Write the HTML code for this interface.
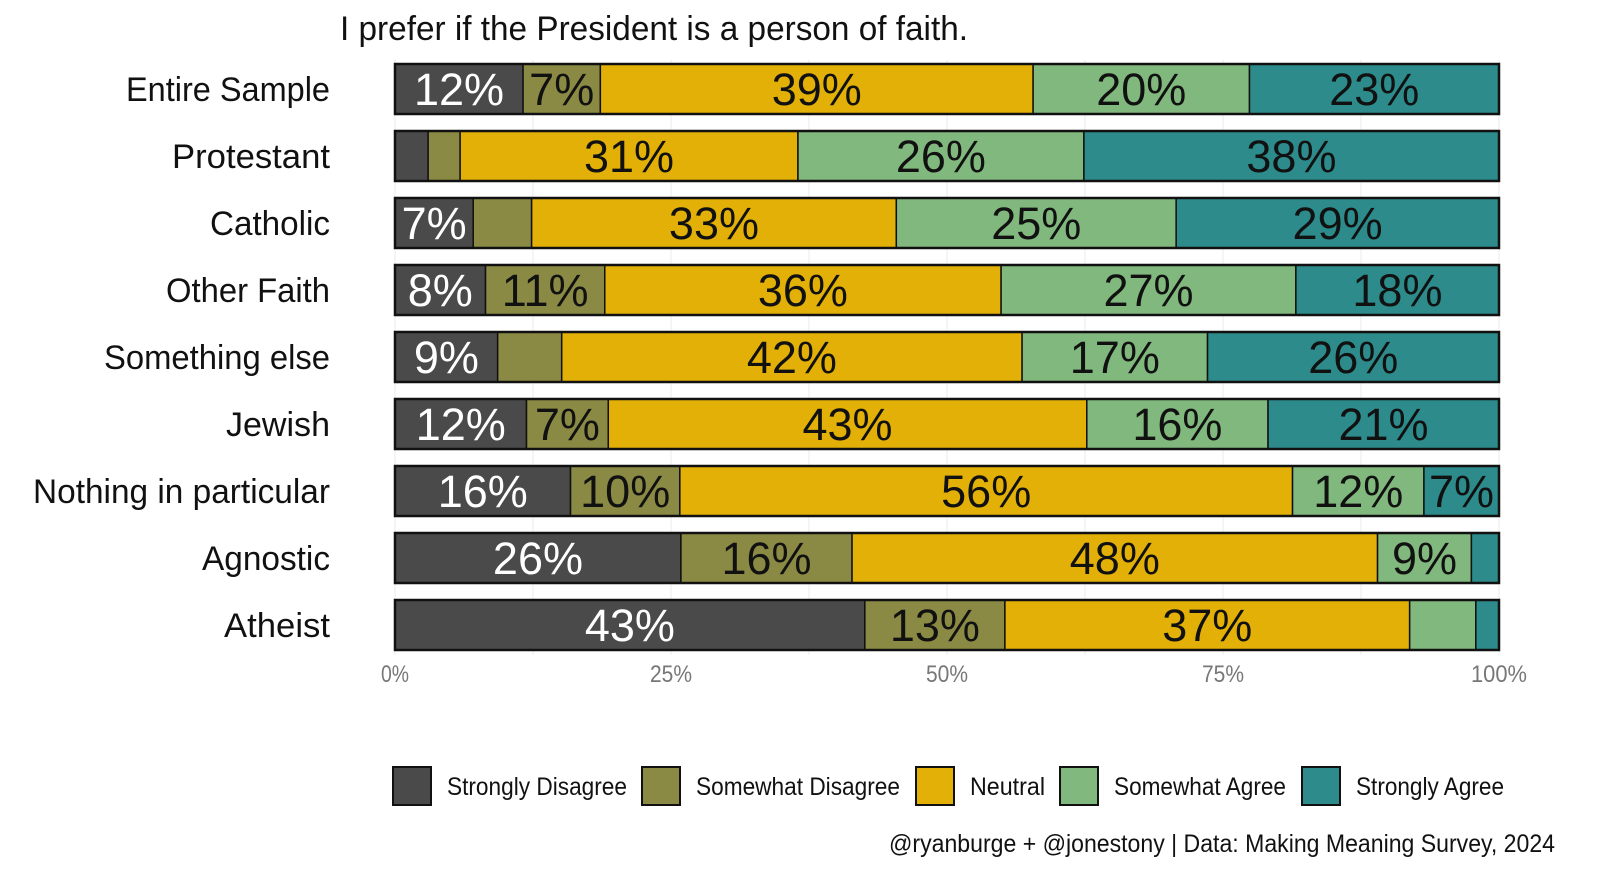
<!DOCTYPE html>
<html><head><meta charset="utf-8"><style>
html,body{margin:0;padding:0;background:#fff;}
svg text{font-family:"Liberation Sans Narrow","Liberation Sans",sans-serif;}
</style></head><body>
<svg id="chart" width="1600" height="889" xmlns="http://www.w3.org/2000/svg">
<text x="340" y="40" font-size="34" fill="#111" textLength="628" lengthAdjust="spacingAndGlyphs">I prefer if the President is a person of faith.</text>
<g id="grid"></g>
<g id="bars"></g>
<g id="axis"></g>
<g id="legend"></g>
<text x="1555" y="852" text-anchor="end" font-size="25" fill="#111" textLength="666" lengthAdjust="spacingAndGlyphs">@ryanburge + @jonestony | Data: Making Meaning Survey, 2024</text>
</svg>
<script>
const categories = ["Entire Sample","Protestant","Catholic","Other Faith","Something else","Jewish","Nothing in particular","Agnostic","Atheist"];
const seriesNames = ["Strongly Disagree","Somewhat Disagree","Neutral","Somewhat Agree","Strongly Agree"];
const stronglyDisagree = [11.6,3.0,7.1,8.2,9.3,11.9,15.9,25.9,42.6];
const somewhatDisagree = [7.0,2.9,5.3,10.8,5.8,7.4,9.9,15.5,12.7];
const neutral = [39.2,30.6,33.1,35.9,41.7,43.3,55.5,47.6,36.7];
const somewhatAgree = [19.6,25.9,25.4,26.7,16.8,16.4,11.9,8.5,6.0];
const stronglyAgree = [22.6,37.6,29.3,18.4,26.4,20.9,6.8,2.5,2.1];
const tickValues = [0,25,50,75,100];
const tickLabels = ["0%","25%","50%","75%","100%"];

const series = [stronglyDisagree,somewhatDisagree,neutral,somewhatAgree,stronglyAgree];
const colors = ["#4a4a4a","#8b8a45","#e2b007","#80b87d","#2d8b8b"];
const catWidths = {"Entire Sample":204,"Protestant":158,"Catholic":120,"Other Faith":164,"Something else":226,"Jewish":104,"Nothing in particular":297,"Agnostic":128,"Atheist":106};
const legendWidths = [180,204,75,172,148];
const NS="http://www.w3.org/2000/svg";
const x0=395,x1=1499;
const xScale=v=>x0+(x1-x0)*v/100;
const rowTop=i=>64+i*67;
const barH=50;
function mk(tag,attrs,parent){const e=document.createElementNS(NS,tag);for(const k in attrs)e.setAttribute(k,attrs[k]);parent.appendChild(e);return e;}
const grid=document.getElementById('grid');
for(let g=0;g<=100;g+=12.5){
  const l=mk('line',{x1:xScale(g),x2:xScale(g),y1:60,y2:655,stroke:'#ebebeb','stroke-width':1},grid);
  
  
}
const bars=document.getElementById('bars');
categories.forEach((c,i)=>{
  const y=rowTop(i);
  const lab=mk('text',{x:330,y:y+barH/2+12,'text-anchor':'end','font-size':34,fill:'#111',textLength:catWidths[c]||150,lengthAdjust:'spacingAndGlyphs'},bars);
  
  
  lab.textContent=c;
  const tot=series.reduce((s,a)=>s+a[i],0);
  let acc=0;
  series.forEach((arr,j)=>{
    const v=arr[i]*100/tot;
    const xa=xScale(acc),xb=xScale(acc+v);
    const r=mk('rect',{x:xa,y:y,width:xb-xa,height:barH,fill:colors[j],stroke:'#111','stroke-width':1.5},bars);
    
    
    if(arr[i]>=6.5){
      const t=mk('text',{x:(xa+xb)/2,y:y+barH/2+16,'text-anchor':'middle','font-size':45,fill:j==0?'#fff':'#111'},bars);
      
      
      t.textContent=Math.round(arr[i])+'%';
    }
    acc+=v;
  });
  const o=mk('rect',{x:x0,y:y,width:x1-x0,height:barH,fill:'none',stroke:'#111','stroke-width':2.5},bars);
  
  
});
const axis=document.getElementById('axis');
tickValues.forEach((v,k)=>{
  const t=mk('text',{x:xScale(v),y:682,'text-anchor':'middle','font-size':24,fill:'#777',textLength:tickLabels[k].length*14,lengthAdjust:'spacingAndGlyphs'},axis);
  
  
  t.textContent=tickLabels[k];
});
const legend=document.getElementById('legend');
const lx=[393,642,916,1060,1302];
seriesNames.forEach((n,j)=>{
  const r=mk('rect',{x:lx[j],y:767,width:38,height:38,fill:colors[j],stroke:'#111','stroke-width':2},legend);
  
  
  const t=mk('text',{x:lx[j]+54,y:795,'font-size':25,fill:'#111',textLength:legendWidths[j],lengthAdjust:'spacingAndGlyphs'},legend);
  
  
  t.textContent=n;
});
</script>
</body></html>
